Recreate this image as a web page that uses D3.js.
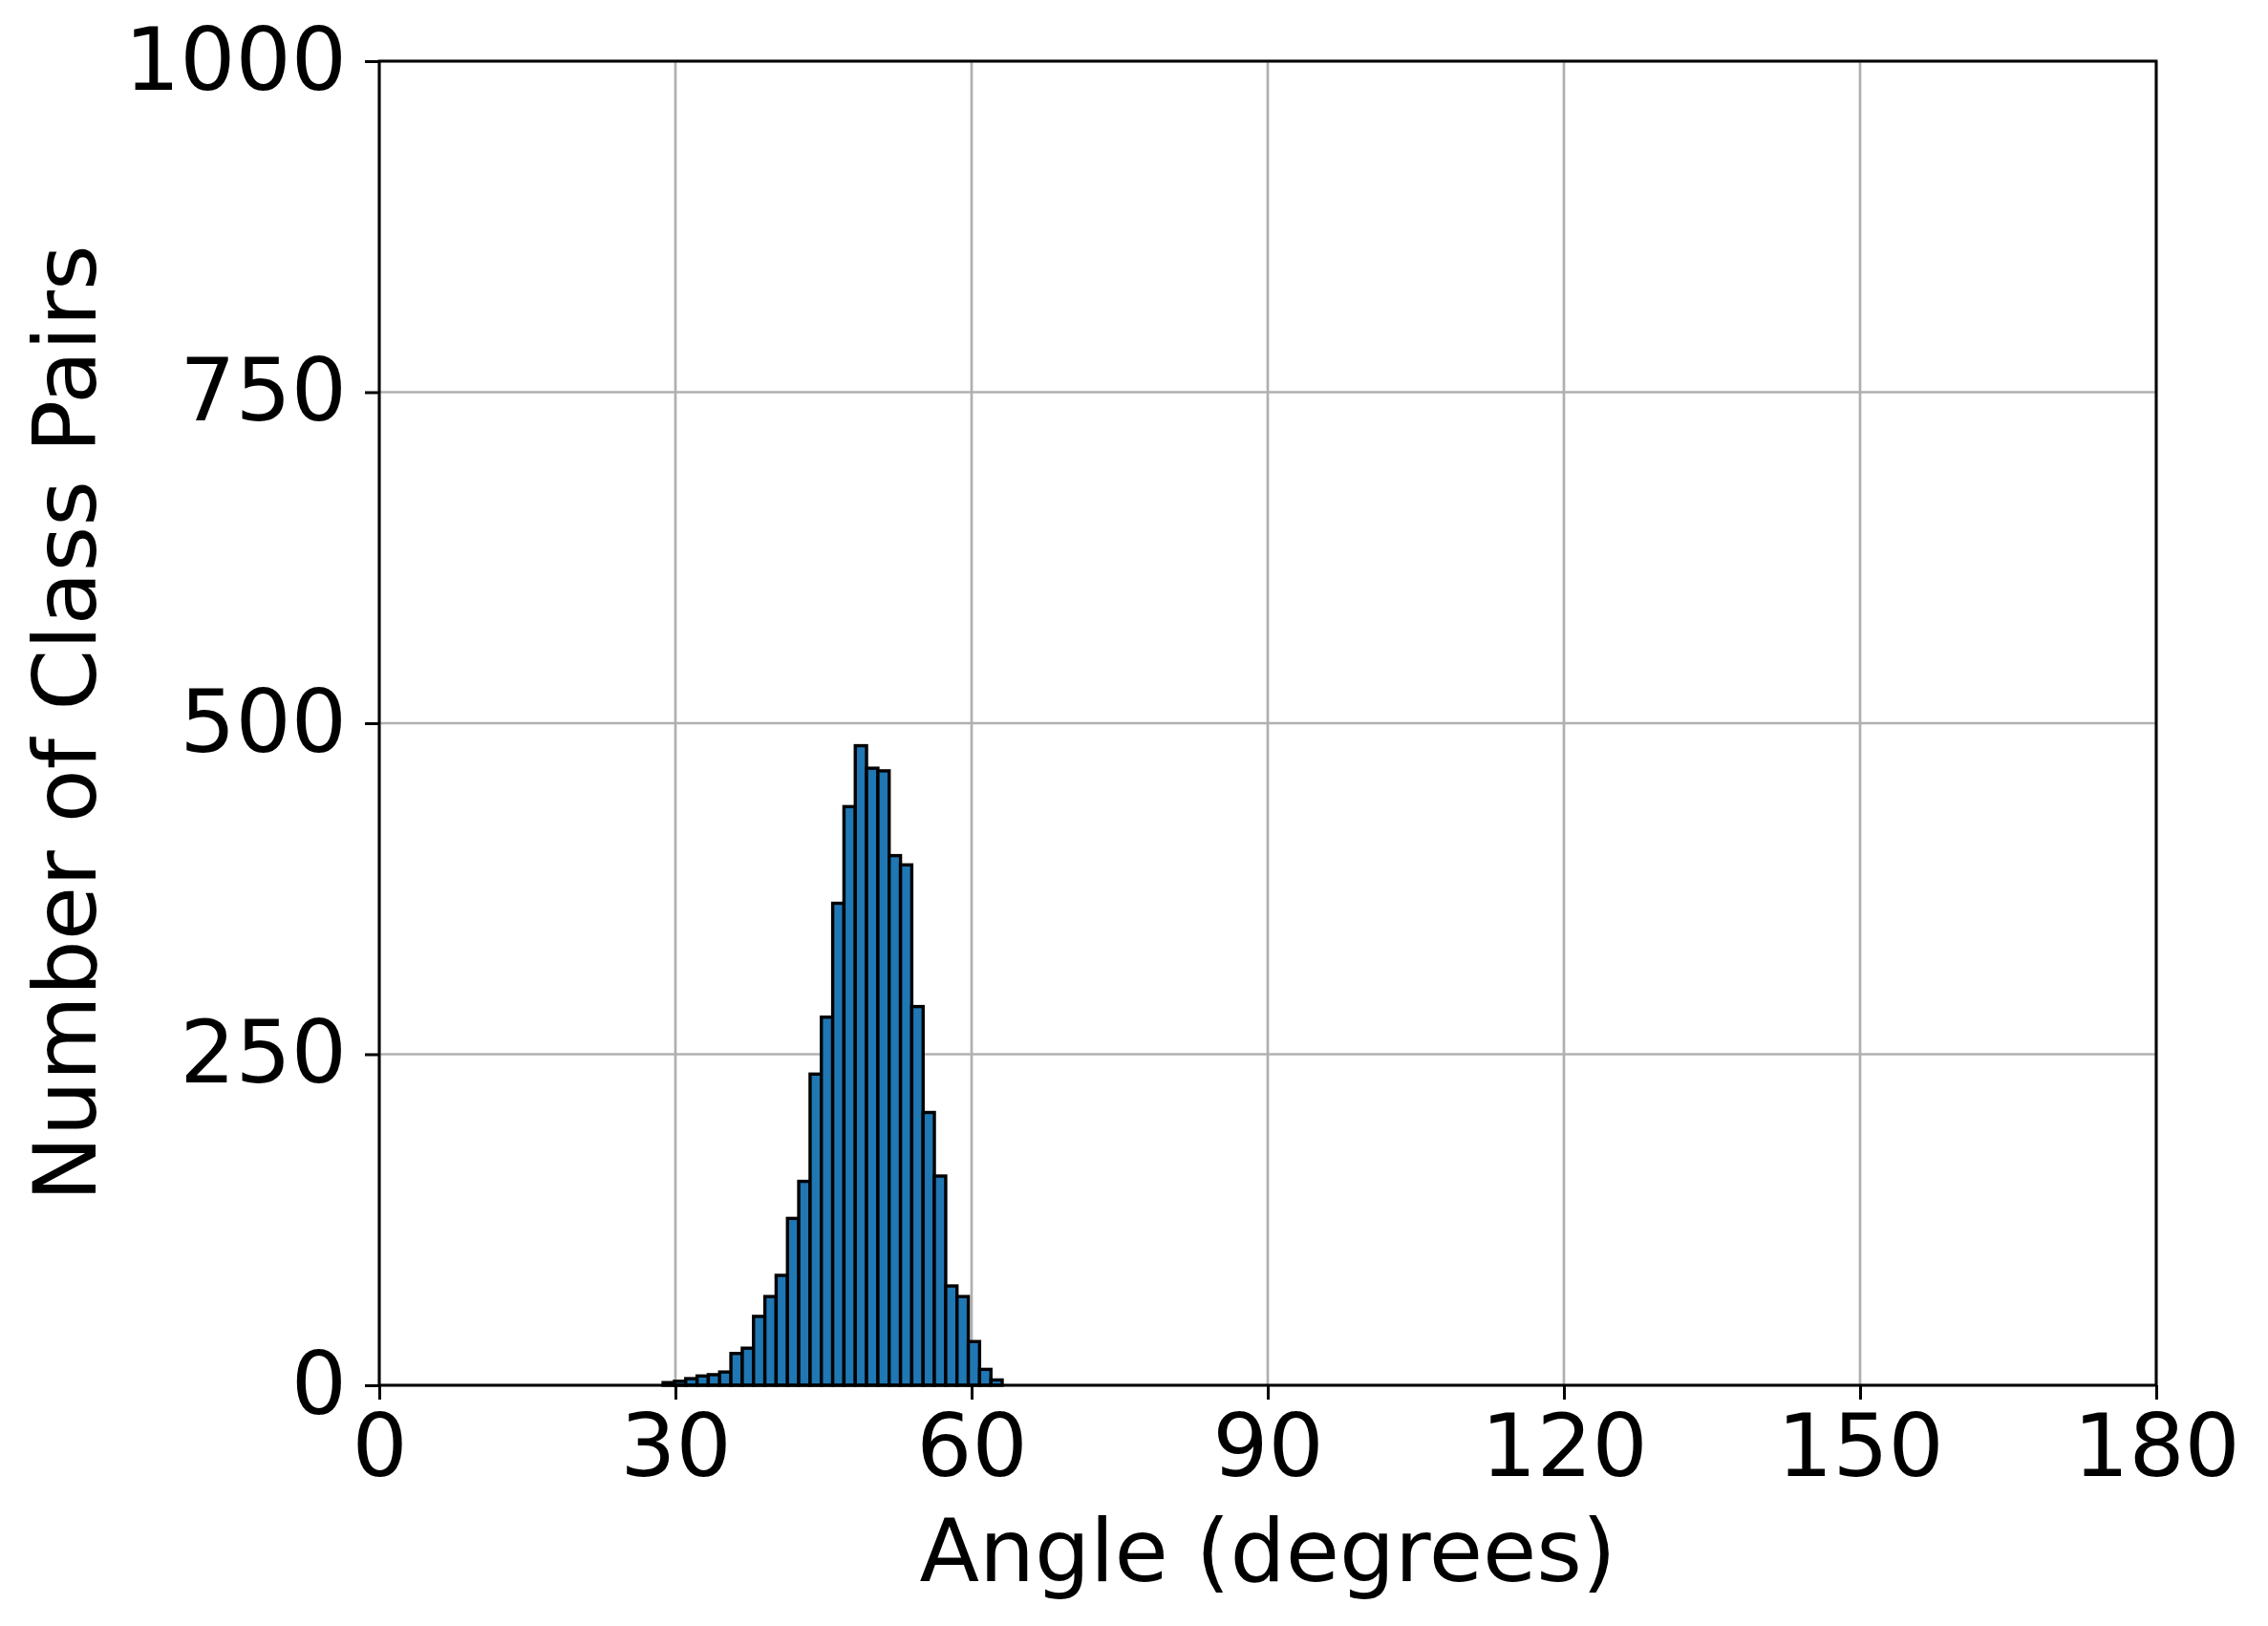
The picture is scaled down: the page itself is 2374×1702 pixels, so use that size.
<!DOCTYPE html>
<html>
<head>
<meta charset="utf-8">
<script src="https://cdn.jsdelivr.net/npm/d3@7"></script>
<style>
  body { margin: 0; background: #fff; }
  svg { display: block; }
  text { font-family: "DejaVu Sans", sans-serif; }
</style>
</head>
<body>
<svg id="chart" width="2374" height="1702"></svg>
<script>
// histogram bin edges (degrees) and counts
const binEdges = [28.75, 29.90, 31.04, 32.19, 33.33, 34.48, 35.62, 36.77, 37.91, 39.06,
  40.20, 41.35, 42.49, 43.64, 44.78, 45.93, 47.07, 48.22, 49.36, 50.51,
  51.65, 52.80, 53.94, 55.09, 56.23, 57.38, 58.52, 59.67, 60.81, 61.96, 63.10];
const counts = [2, 3, 5, 7, 8, 10, 24, 28, 52, 67,
  83, 126, 154, 235, 278, 364, 437, 483, 466, 464,
  400, 393, 286, 206, 158, 75, 67, 33, 12, 4];
const xTicks = [0, 30, 60, 90, 120, 150, 180];
const yTicks = [0, 250, 500, 750, 1000];

const bins = counts.map((c, i) => ({ x0: binEdges[i], x1: binEdges[i + 1], count: c }));

const svg = d3.select("#chart");
const margin = { top: 64, right: 117, bottom: 252, left: 397 };
const width = 2374, height = 1702;
const innerWidth = width - margin.left - margin.right;
const innerHeight = height - margin.top - margin.bottom;
const fontSize = 91.5;

const x = d3.scaleLinear().domain([0, 180]).range([0, innerWidth]);
const y = d3.scaleLinear().domain([0, 1000]).range([innerHeight, 0]);

const g = svg.append("g").attr("transform", `translate(${margin.left},${margin.top})`);

// grid
g.append("g").selectAll("line").data(xTicks).enter().append("line")
  .attr("x1", d => x(d)).attr("x2", d => x(d))
  .attr("y1", 0).attr("y2", innerHeight)
  .attr("stroke", "#b0b0b0").attr("stroke-width", 2.7);
g.append("g").selectAll("line").data(yTicks).enter().append("line")
  .attr("x1", 0).attr("x2", innerWidth)
  .attr("y1", d => y(d)).attr("y2", d => y(d))
  .attr("stroke", "#b0b0b0").attr("stroke-width", 2.7);

// bars
g.append("g").selectAll("rect").data(bins).enter().append("rect")
  .attr("x", d => x(d.x0))
  .attr("width", d => x(d.x1) - x(d.x0))
  .attr("y", d => y(d.count))
  .attr("height", d => y(0) - y(d.count))
  .attr("fill", "#1f77b4")
  .attr("stroke", "#000")
  .attr("stroke-width", 3.4);

// axes
const xAxis = g.append("g").attr("transform", `translate(0,${innerHeight})`)
  .call(d3.axisBottom(x).tickValues(xTicks).tickSize(15).tickPadding(15).tickFormat(d3.format("d")));
const yAxis = g.append("g")
  .call(d3.axisLeft(y).tickValues(yTicks).tickSize(15).tickPadding(19).tickFormat(d3.format("d")));
[xAxis, yAxis].forEach(a => {
  a.select(".domain").remove();
  a.selectAll(".tick line").attr("stroke", "#000").attr("stroke-width", 3);
  a.selectAll(".tick text").attr("fill", "#000")
    .style("font-size", fontSize + "px").style("font-family", "DejaVu Sans");
});

// frame
g.append("rect").attr("width", innerWidth).attr("height", innerHeight)
  .attr("fill", "none").attr("stroke", "#000").attr("stroke-width", 3);

// labels
svg.append("text")
  .attr("x", margin.left + innerWidth / 2).attr("y", 1655)
  .attr("text-anchor", "middle").style("font-size", fontSize + "px")
  .text("Angle (degrees)");
svg.append("text")
  .attr("transform", `translate(100,${margin.top + innerHeight / 2}) rotate(-90)`)
  .attr("text-anchor", "middle").style("font-size", fontSize + "px")
  .text("Number of Class Pairs");
</script>
</body>
</html>
